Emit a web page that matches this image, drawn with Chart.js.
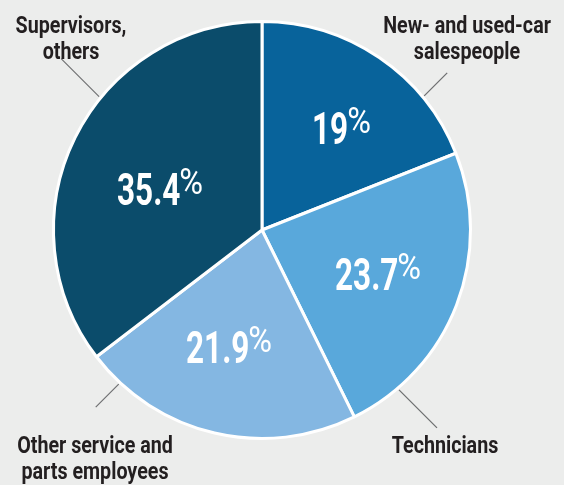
<!DOCTYPE html>
<html lang="en">
  <head>
    <meta charset="UTF-8" />
    <title>Dealership employees</title>
    <style>
      body {
        margin: 0;
        background: #ecedec;
      }
      .wrap {
        width: 564px;
        height: 485px;
      }
    </style>
  </head>
  <body>
    <div class="wrap"><canvas id="pie" width="564" height="485"></canvas></div>

    <script src="https://cdn.jsdelivr.net/npm/chart.js@4.4.1/dist/chart.umd.min.js"></script>
    <script>
      // data
      const categories = [
        ["New- and used-car", "salespeople"],
        ["Technicians"],
        ["Other service and", "parts employees"],
        ["Supervisors,", "others"],
      ];
      const shares = [19, 23.7, 21.9, 35.4];
      const colors = ["#08639b", "#59a8db", "#84b7e2", "#0b4c6b"];

      // where the text goes (left x / baseline y for the % numbers, center x / first baseline for names)
      const valuePos = [
        [312, 144],
        [335, 290],
        [186, 363],
        [117, 205],
      ];
      const namePos = [
        [467, 33],
        [445, 453],
        [95, 453],
        [71, 33],
      ];
      // leader lines: angle on the rim (deg, clockwise from 3 o'clock) and direction of the line
      const leaders = [
        [-39.6, 1, -1],
        [49.4, 1, 1],
        [132.9, -1, 1],
        [-140.7, -1, -1],
      ];

      function condText(ctx, text, x, y, font, sx, align) {
        ctx.save();
        ctx.font = font;
        const w = ctx.measureText(text).width * sx;
        const left = align === "center" ? x - w / 2 : x;
        ctx.translate(left, y);
        ctx.scale(sx, 1);
        ctx.textAlign = "left";
        ctx.textBaseline = "alphabetic";
        ctx.fillText(text, 0, 0);
        ctx.restore();
        return w;
      }

      const labelPlugin = {
        id: "labels",
        afterDatasetsDraw(chart) {
          const ctx = chart.ctx;
          const arc = chart.getDatasetMeta(0).data[0];
          const cx = arc.x;
          const cy = arc.y;
          const r = arc.outerRadius + 2;

          // leader lines
          ctx.save();
          ctx.strokeStyle = "#6d6e70";
          ctx.lineWidth = 1.2;
          leaders.forEach((l) => {
            const a = (l[0] * Math.PI) / 180;
            const x0 = cx + r * Math.cos(a);
            const y0 = cy + r * Math.sin(a);
            const len = l[1] * l[2] < 0 ? 23 : 38;
            ctx.beginPath();
            ctx.moveTo(x0, y0);
            ctx.lineTo(x0 + l[1] * len, y0 + l[2] * len);
            ctx.stroke();
          });
          ctx.restore();

          // category names
          ctx.fillStyle = "#231f20";
          categories.forEach((lines, i) => {
            lines.forEach((t, j) => {
              condText(ctx, t, namePos[i][0], namePos[i][1] + j * 26, "bold 24px Roboto", 0.82, "center");
            });
          });

          // percentages
          ctx.fillStyle = "#ffffff";
          shares.forEach((v, i) => {
            const [x, y] = valuePos[i];
            const w = condText(ctx, String(v), x, y, "bold 45px Roboto", 0.7, "left");
            condText(ctx, "%", x + w - 1, y - 11, "400 36px Roboto", 0.9, "left");
          });
        },
      };

      new Chart(document.getElementById("pie"), {
        type: "pie",
        data: {
          labels: categories.map((c) => c.join(" ")),
          datasets: [
            {
              data: shares,
              backgroundColor: colors,
              borderColor: "#ffffff",
              borderWidth: 3,
              hoverOffset: 0,
            },
          ],
        },
        options: {
          responsive: false,
          animation: false,
          layout: {
            padding: { left: 52, right: 92, top: 20, bottom: 45 },
          },
          plugins: {
            legend: { display: false },
            tooltip: { enabled: false },
          },
        },
        plugins: [labelPlugin],
      });
    </script>
  </body>
</html>
